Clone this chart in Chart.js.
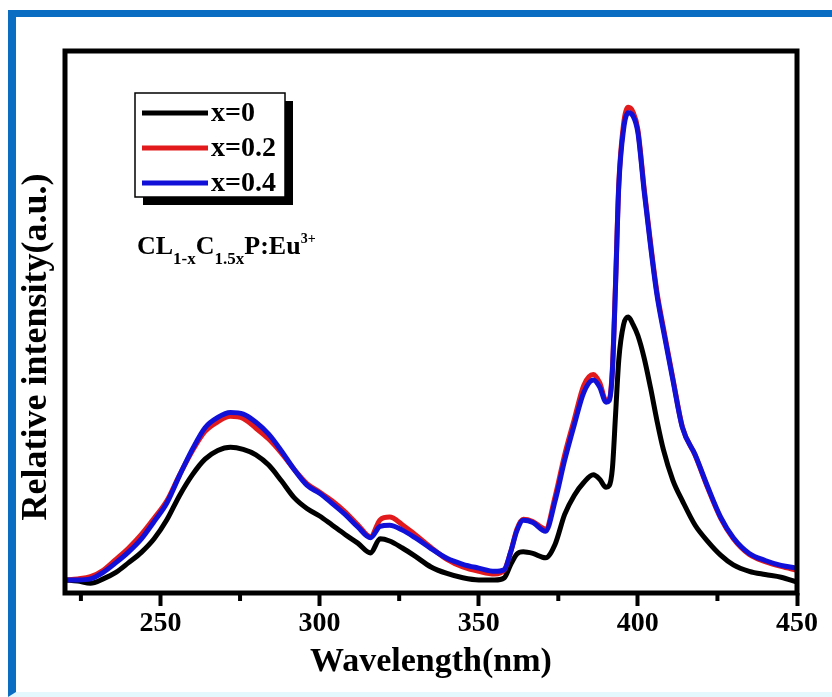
<!DOCTYPE html>
<html>
<head>
<meta charset="utf-8">
<script src="https://cdn.jsdelivr.net/npm/chart.js@4.4.0/dist/chart.umd.min.js"></script>
<style>
  body { margin: 0; background: #fff; }
  .frame {
    position: absolute; left: 8px; top: 10px; width: 840px; height: 675px;
    border-top: 7px solid #0b6dc1; border-left: 8px solid #0b6dc1;
    border-bottom: 5px solid #e2f8fd; background: #fff;
  }
  #spectra { position: absolute; left: 0; top: 0; }
</style>
</head>
<body>
<div class="frame"></div>
<canvas id="spectra" width="832" height="697"></canvas>
<script>
const wavelength = [
  220, 224, 228, 232, 236, 240, 244, 248, 252, 256,
  260, 264, 268, 272, 276, 280, 284, 288, 292, 296,
  300, 304, 308, 312, 316, 319, 322, 326, 330, 335,
  340, 345, 350, 355, 358, 360, 362, 364, 367, 371,
  374, 377, 380, 383, 386, 388, 390, 391, 392, 393,
  394, 395.5, 397, 398.5, 400, 402, 404, 406, 408, 411,
  414, 418, 422, 426, 430, 435, 440, 445, 450
];
const intensityX0 = [
  2.4, 2.2, 1.8, 2.6, 3.8, 5.6, 7.5, 10, 13.5, 18,
  21.8, 24.7, 26.3, 26.9, 26.5, 25.5, 23.6, 20.7, 17.6, 15.6,
  14.2, 12.5, 10.8, 9.2, 7.4, 10, 9.6, 8.3, 6.8, 4.8,
  3.6, 2.8, 2.4, 2.4, 2.8, 5.2, 7.2, 7.6, 7.3, 6.5,
  9, 14.5, 18, 20.4, 21.8, 21, 19.5, 19.8, 23, 33,
  43, 49.5, 50.9, 49.5, 47.5, 43.3, 37.8, 31.8, 26.5, 20.8,
  17, 12.5, 9.5, 7, 5.2, 4, 3.4, 2.9, 2
];
const intensityX02 = [
  2.4, 2.6, 3, 4.2, 6.2, 8.3, 10.8, 13.8, 17, 21.8,
  26.2, 29.8, 31.6, 32.6, 32.2, 30.4, 28.4, 25.8, 22.8, 20.2,
  18.6, 17, 15, 12.6, 10.4, 13.5, 14, 12.6, 10.8, 8.4,
  6.2, 4.8, 4, 3.5, 4.2, 7.5, 11.8, 13.6, 13.2, 11.8,
  17.8, 25.5, 32, 38.3, 40.3, 38.8, 35.5, 35.8, 41.5, 57.5,
  75.5, 86.5, 89.6, 88.7, 85.5, 74.5, 64.5, 55.5, 49, 39.6,
  30.6, 25.4, 19.3, 13.8, 10, 7.1, 5.8, 4.9, 4.2
];
const intensityX04 = [
  2.4, 2.4, 2.6, 3.8, 5.6, 7.6, 10, 13.2, 16.6, 21.7,
  26.5, 30.5, 32.4, 33.3, 33, 31.5, 29.3, 26.2, 22.8, 19.9,
  18.4, 16.5, 14.5, 12.2, 10.2, 12.3, 12.5, 11.6, 10.2, 8.2,
  6.4, 5.3, 4.6, 4.0, 4.3, 7.5, 11.5, 13.4, 13, 11.4,
  17, 24.5, 31, 37, 39.3, 38, 35.2, 35.5, 41, 57,
  75, 85.5, 88.6, 88, 85, 74, 64, 55, 48.5, 39.3,
  30.5, 25.5, 19.5, 14, 10.2, 7.3, 6, 5.1, 4.6
];
const seriesLabels = ["x=0", "x=0.2", "x=0.4"];
const seriesColors = ["#000000", "#e31a1c", "#1010d8"];
const majorTicks = [250, 300, 350, 400, 450];
const minorTicks = [225, 275, 325, 375, 425];

const serif = "'Liberation Serif', 'Times New Roman', serif";
Chart.defaults.font.family = serif;
Chart.defaults.font.weight = "bold";
Chart.defaults.color = "#000";

function points(values) {
  return wavelength.map((w, i) => ({ x: w, y: values[i] }));
}

// frame, minor ticks, legend box, formula and y title
const decorations = {
  id: "decorations",
  afterDatasetsDraw(chart) {
    const ctx = chart.ctx;
    const a = chart.chartArea;
    const xs = chart.scales.x;
    ctx.save();
    ctx.strokeStyle = "#000";
    ctx.lineWidth = 5;
    ctx.strokeRect(a.left, a.top, a.right - a.left, a.bottom - a.top);

    ctx.lineWidth = 4;
    minorTicks.forEach((v) => {
      const px = xs.getPixelForValue(v);
      ctx.beginPath();
      ctx.moveTo(px, a.bottom);
      ctx.lineTo(px, a.bottom + 8);
      ctx.stroke();
    });

    // legend with drop shadow
    ctx.fillStyle = "#000";
    ctx.fillRect(143, 101, 150, 104);
    ctx.fillStyle = "#fff";
    ctx.fillRect(135, 93, 150, 104);
    ctx.lineWidth = 1.5;
    ctx.strokeRect(135, 93, 150, 104);
    ctx.font = "bold 28px " + serif;
    ctx.textBaseline = "middle";
    seriesLabels.forEach((label, i) => {
      const y = 113 + i * 35;
      ctx.strokeStyle = seriesColors[i];
      ctx.lineWidth = 5;
      ctx.lineCap = "butt";
      ctx.beginPath();
      ctx.moveTo(142, y);
      ctx.lineTo(208, y);
      ctx.stroke();
      ctx.fillStyle = "#000";
      ctx.fillText(label, 211, y + 1);
    });

    // CL1-xC1.5xP:Eu3+
    ctx.textBaseline = "alphabetic";
    const parts = [
      ["CL", 26, 0], ["1-x", 17, 10], ["C", 26, 0], ["1.5x", 17, 10],
      ["P:Eu", 26, 0], ["3+", 14, -11]
    ];
    let cx = 137;
    parts.forEach(([t, size, dy]) => {
      ctx.font = "bold " + size + "px " + serif;
      ctx.fillText(t, cx, 254 + dy);
      cx += ctx.measureText(t).width;
    });

    // y axis title
    ctx.translate(37, 347);
    ctx.rotate(-Math.PI / 2);
    ctx.font = "bold 36px " + serif;
    ctx.textAlign = "center";
    ctx.textBaseline = "middle";
    ctx.fillText("Relative intensity(a.u.)", 0, 0);
    ctx.restore();
  }
};

new Chart(document.getElementById("spectra"), {
  type: "line",
  data: {
    datasets: [
      { label: seriesLabels[0], data: points(intensityX0), borderColor: seriesColors[0], order: 2 },
      { label: seriesLabels[1], data: points(intensityX02), borderColor: seriesColors[1], order: 1 },
      { label: seriesLabels[2], data: points(intensityX04), borderColor: seriesColors[2], order: 0 },
    ],
  },
  options: {
    responsive: false,
    animation: false,
    devicePixelRatio: 1,
    layout: { padding: { top: 51, right: 35, left: 0, bottom: 0 } },
    elements: {
      point: { radius: 0 },
      line: { borderWidth: 5, cubicInterpolationMode: "monotone", fill: false },
    },
    plugins: { legend: { display: false }, tooltip: { enabled: false } },
    scales: {
      x: {
        type: "linear",
        min: 220,
        max: 450,
        afterBuildTicks: (s) => { s.ticks = majorTicks.map((v) => ({ value: v })); },
        afterFit: (s) => { s.height = 104; },
        grid: { drawOnChartArea: false, tickLength: 13, tickWidth: 4, tickColor: "#000" },
        border: { display: false },
        ticks: { font: { size: 28, weight: "bold" }, padding: 1, maxRotation: 0 },
        title: {
          display: true,
          text: "Wavelength(nm)",
          font: { size: 34, weight: "bold" },
          padding: { top: 0, bottom: 14 },
        },
      },
      y: {
        min: 0,
        max: 100,
        afterFit: (s) => { s.width = 65; },
        grid: { display: false },
        border: { display: false },
        ticks: { display: false },
      },
    },
  },
  plugins: [decorations],
});
</script>
</body>
</html>
